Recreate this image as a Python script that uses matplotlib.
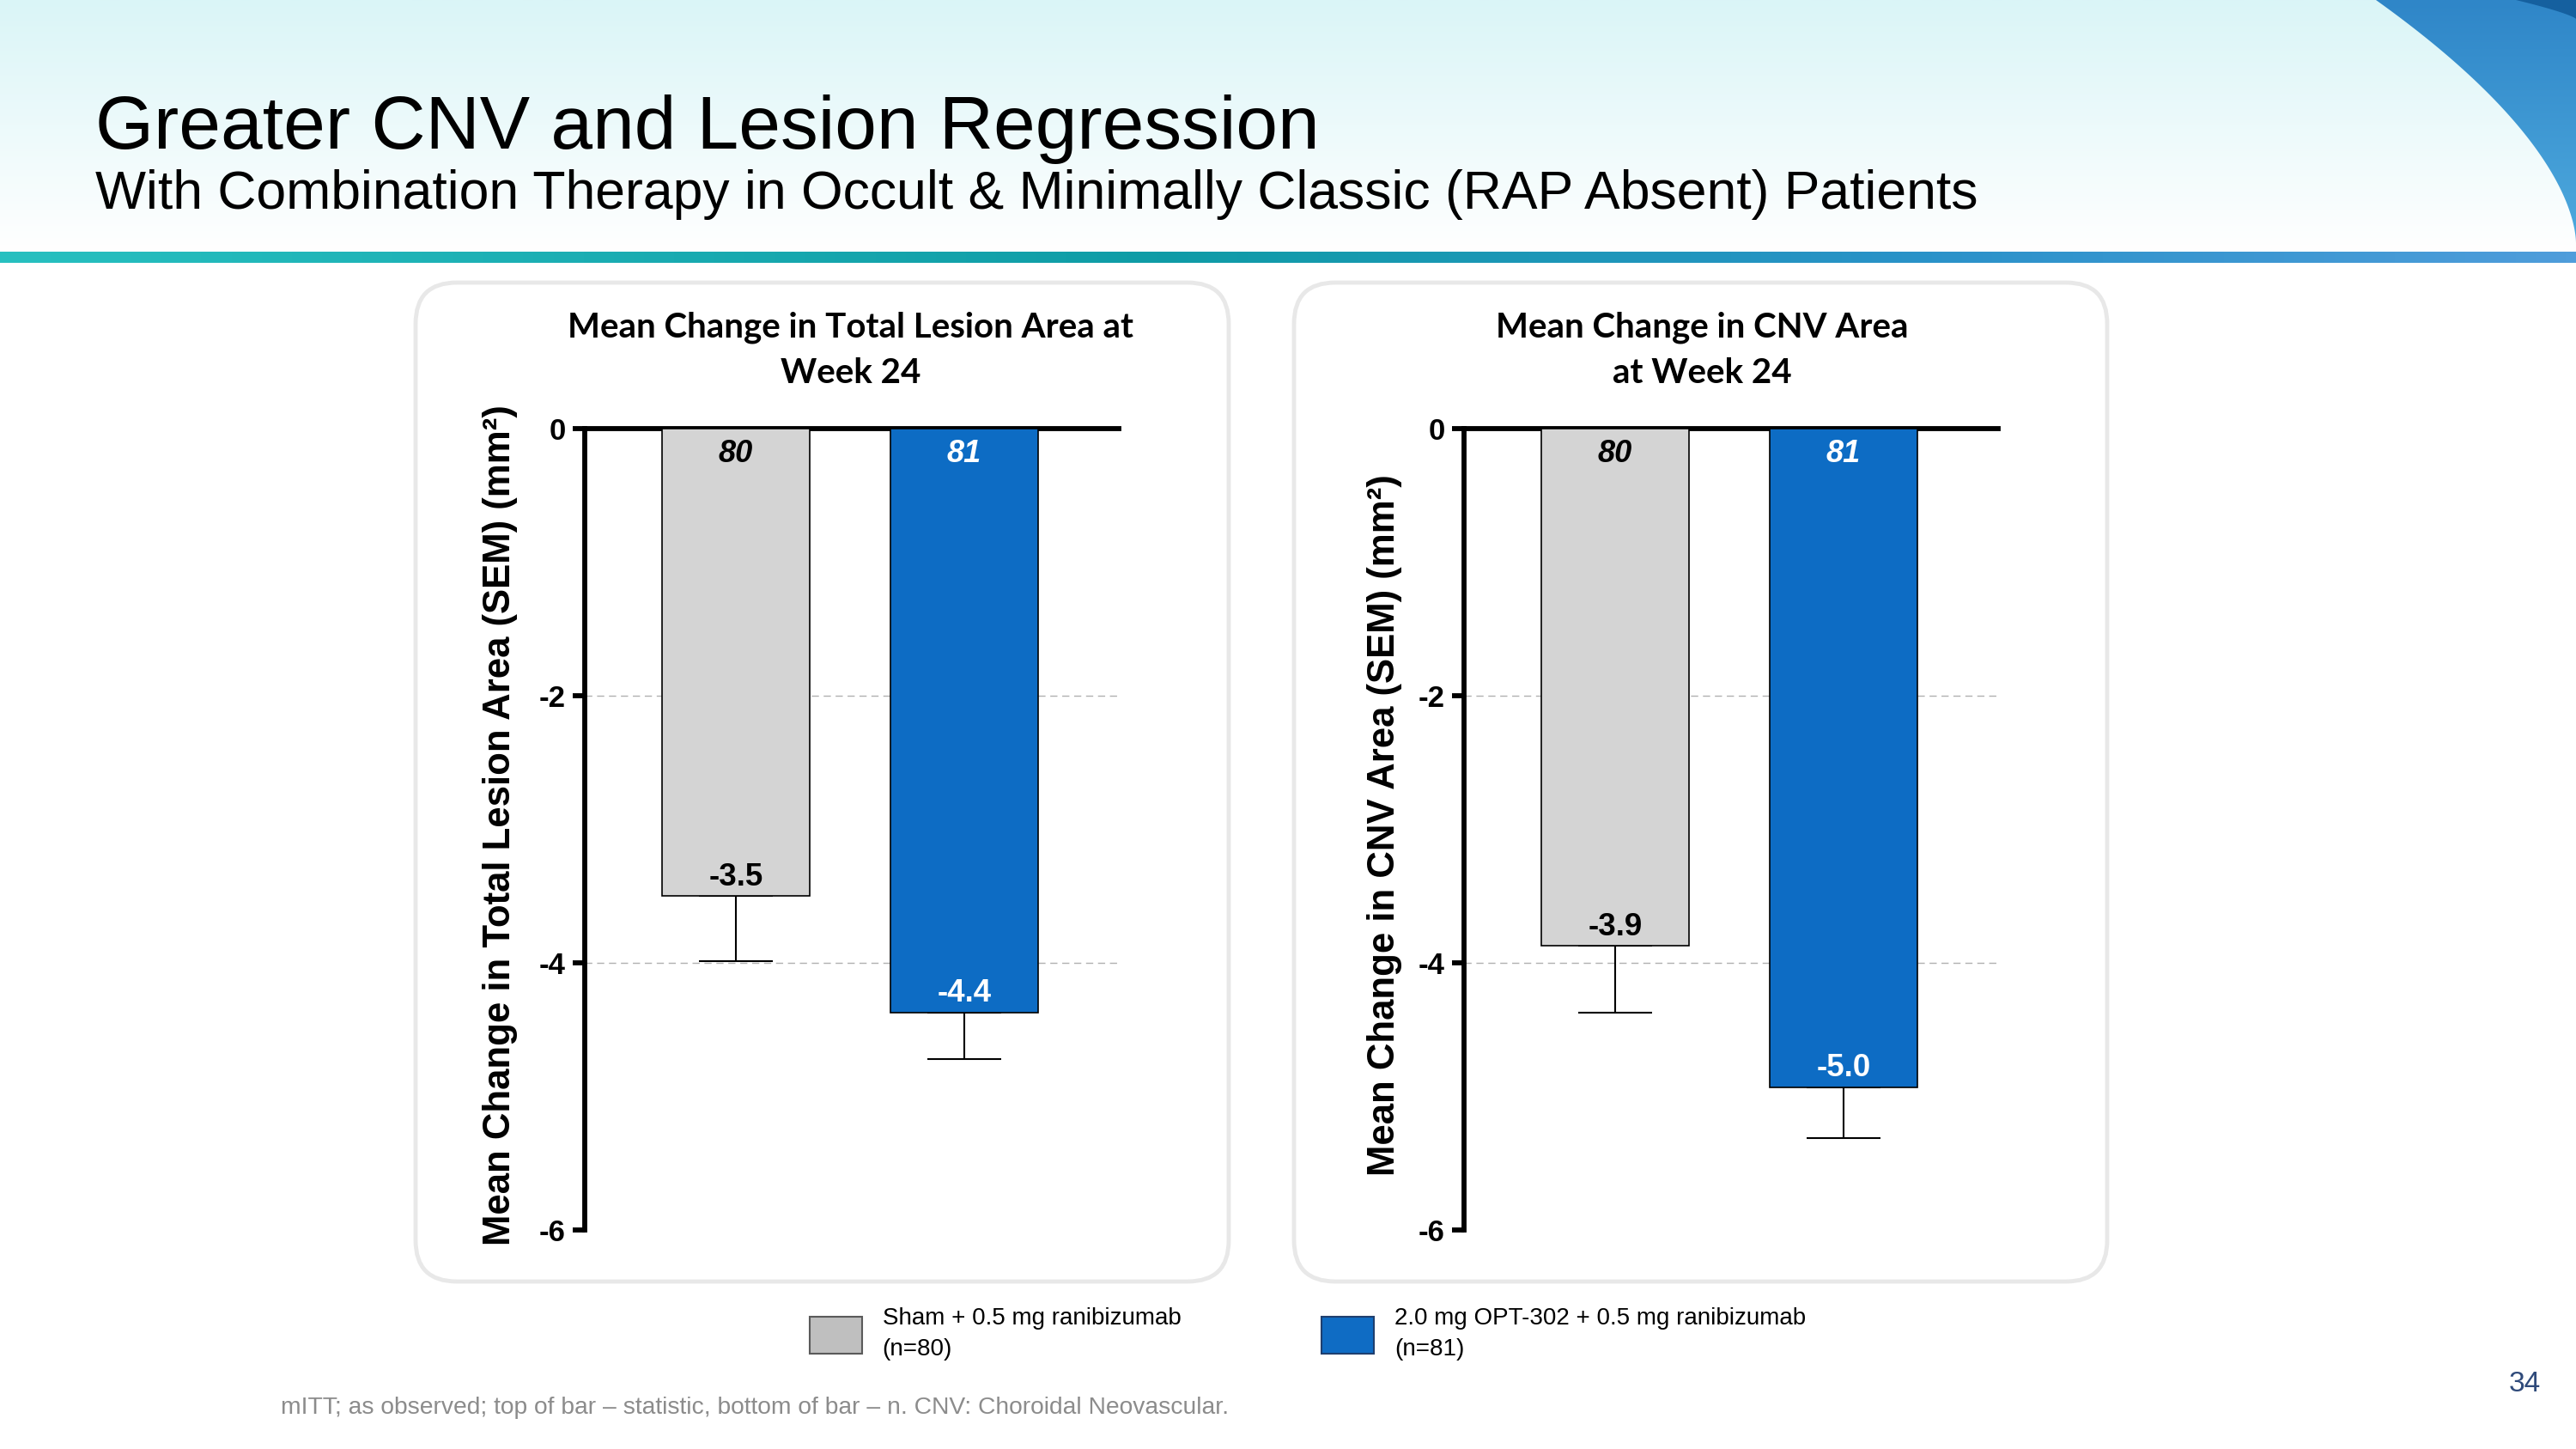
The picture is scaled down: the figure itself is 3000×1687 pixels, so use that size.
import numpy as np
import matplotlib
matplotlib.use("Agg")
import matplotlib.pyplot as plt
from matplotlib.colors import LinearSegmentedColormap
from matplotlib.patches import FancyBboxPatch, Polygon, Patch

plt.rcParams['font.family'] = ['Liberation Sans', 'DejaVu Sans']

# data
groups = ["Sham + 0.5 mg ranibizumab\n(n=80)",
          "2.0 mg OPT-302 + 0.5 mg ranibizumab\n(n=81)"]
n_counts = [80, 81]
lesion_mean = [-3.50, -4.37]
lesion_sem = [0.49, 0.35]
lesion_labels = ["-3.5", "-4.4"]
cnv_mean = [-3.87, -4.93]
cnv_sem = [0.50, 0.38]
cnv_labels = ["-3.9", "-5.0"]
y_ticks = [0, -2, -4, -6]
grid_levels = [-2, -4]

bar_colors = ["#d4d4d4", "#0d6cc4"]
legend_colors = ["#bfbfbf", "#0f6cc4"]
n_text_colors = ["black", "white"]

W, H = 3000, 1687
fig = plt.figure(figsize=(W / 100, H / 100), dpi=100)

# ---- slide background (pixel coordinates) ----
bg = fig.add_axes([0, 0, 1, 1], zorder=-5)
bg.axis('off')

top_cmap = LinearSegmentedColormap.from_list("top", ["#daf5f7", "#ffffff"])
bg.imshow(np.linspace(0, 1, 256).reshape(-1, 1), extent=(0, W, 293, 0),
          cmap=top_cmap, aspect='auto', origin='upper')

band_cmap = LinearSegmentedColormap.from_list(
    "band", [(0, "#27c0c0"), (0.45, "#0f9ca6"), (0.75, "#2a92c9"), (1, "#4f9ddb")])
bg.imshow(np.linspace(0, 1, 512).reshape(1, -1), extent=(0, W, 306, 293),
          cmap=band_cmap, aspect='auto')

# blue swoosh in the top-right corner
u = np.linspace(0, 1, 120)
curve = np.column_stack([W - 233 * (1 - u) ** 1.7, 283 * u])
swoosh = Polygon(np.vstack([curve, [[W, 0]]]), closed=True, fc='none', ec='none')
bg.add_patch(swoosh)
sw_cmap = LinearSegmentedColormap.from_list("sw", ["#2f86c8", "#4eaade"])
im = bg.imshow(np.linspace(0, 1, 256).reshape(-1, 1), extent=(2750, W, 290, 0),
               cmap=sw_cmap, aspect='auto', origin='upper')
im.set_clip_path(swoosh)
curve2 = np.column_stack([W - 70 * (1 - u) ** 1.3, 22 * u])
bg.add_patch(Polygon(np.vstack([curve2, [[W, 0]]]), closed=True,
                     fc='#15609f', ec='none'))

# rounded chart panels
for px in [484, 1507]:
    bg.add_patch(FancyBboxPatch((px, 329), 947, 1163,
                                boxstyle='round,pad=0,rounding_size=48',
                                fc='white', ec='#e8e8e8', lw=3.5))

bg.set_xlim(0, W)
bg.set_ylim(H, 0)

# ---- slide titles ----
fig.text(111 / W, 1 - 173 / H, "Greater CNV and Lesion Regression",
         fontsize=63, va='baseline', ha='left', color='black')
fig.text(111 / W, 1 - 243 / H,
         "With Combination Therapy in Occult & Minimally Classic (RAP Absent) Patients",
         fontsize=45, va='baseline', ha='left', color='black')


def draw_panel(left_px, means, sems, labels, title, title_cx, ylabel, label_x):
    ax = fig.add_axes([left_px / W, 255 / H, 622 / W, 933 / H])
    ax.set_facecolor('none')
    x = np.arange(len(means))
    sems_arr = np.array(sems)
    ax.errorbar(x, means, yerr=[sems_arr, np.zeros_like(sems_arr)], fmt='none',
                ecolor='black', elinewidth=1.5, capsize=31, capthick=1.5, zorder=2)
    ax.bar(x, means, width=0.647, color=bar_colors, edgecolor='black',
           linewidth=1.2, zorder=3)
    for g in grid_levels:
        ax.axhline(g, color='#b0b0b0', lw=1.0, ls=(0, (6, 4)), zorder=1)
    for xi, n, c in zip(x, n_counts, n_text_colors):
        ax.annotate(str(n), (xi, 0), xytext=(0, -9), textcoords='offset points',
                    ha='center', va='top', fontsize=26, fontweight='bold',
                    style='italic', color=c, zorder=4)
    for xi, m, lab, c in zip(x, means, labels, n_text_colors):
        ax.annotate(lab, (xi, m), xytext=(0, 3), textcoords='offset points',
                    ha='center', va='bottom', fontsize=26.5, fontweight='bold',
                    color=c, zorder=4)
    ax.set_xlim(-0.662, 1.677)
    ax.set_ylim(-6, 0)
    ax.set_yticks(y_ticks)
    ax.set_yticklabels([str(t) for t in y_ticks], fontsize=25, fontweight='bold')
    ax.tick_params(axis='y', width=4.2, length=10, pad=6)
    ax.tick_params(axis='x', bottom=False, labelbottom=False)
    for s in ['bottom', 'right']:
        ax.spines[s].set_visible(False)
    for s in ['top', 'left']:
        ax.spines[s].set_linewidth(4.2)
    ax.text(label_x, 0.505, ylabel, transform=ax.transAxes, rotation=90,
            ha='center', va='center', fontsize=31.5, fontweight='bold')
    fig.text(title_cx / W, 1 - 408 / H, title, ha='center', va='center',
             fontsize=29, fontweight='bold', family=['Lato', 'DejaVu Sans'],
             linespacing=1.55)
    return ax


draw_panel(681, lesion_mean, lesion_sem, lesion_labels,
           "Mean Change in Total Lesion Area at\nWeek 24", 991,
           "Mean Change in Total Lesion Area (SEM) (mm²)", -0.158)
draw_panel(1705, cnv_mean, cnv_sem, cnv_labels,
           "Mean Change in CNV Area\nat Week 24", 1982,
           "Mean Change in CNV Area (SEM) (mm²)", -0.148)

# ---- legend ----
handles = [Patch(fc=legend_colors[0], ec='#5a5a5a', lw=1.5),
           Patch(fc=legend_colors[1], ec='#1f3f6f', lw=1.5)]
leg = fig.legend(handles, groups, ncol=2, loc='center left',
                 bbox_to_anchor=(943 / W, 1 - 1553 / H), frameon=False,
                 fontsize=20, handlelength=2.2, handleheight=2.0,
                 handletextpad=0.85, columnspacing=5.9, borderpad=0,
                 borderaxespad=0)
for t in leg.get_texts():
    t.set_linespacing(1.45)

# ---- footnote and page number ----
fig.text(327 / W, 1 - 1639 / H,
         "mITT; as observed; top of bar – statistic, bottom of bar – n. CNV: Choroidal Neovascular.",
         fontsize=20.3, color='#8c8c8c', va='center', ha='left')
fig.text(2959 / W, 1 - 1611 / H, "34", fontsize=24, color='#2f4a7a',
         va='center', ha='right')

fig.savefig("out.png", dpi=100)
